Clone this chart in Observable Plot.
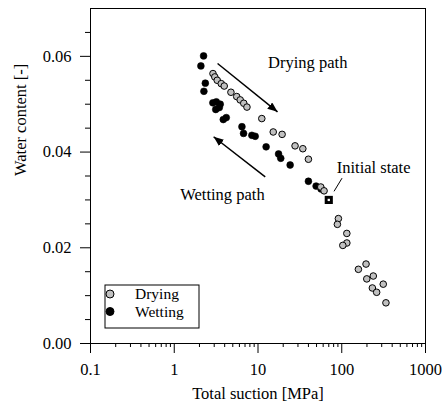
<!DOCTYPE html>
<html>
<head>
<meta charset="utf-8">
<script src="https://cdn.jsdelivr.net/npm/d3@7"></script>
<script src="https://cdn.jsdelivr.net/npm/@observablehq/plot@0.6"></script>
<style>
  html, body { margin: 0; padding: 0; background: #fff; }
</style>
</head>
<body>
<div id="chart"></div>
<script>
// Drying branch: total suction [MPa] and water content [-]
const dryingSuction = [2.9, 3.05, 3.26, 3.64, 3.95, 4.75, 5.57, 6.13, 6.76, 7.38, 11.1, 15.2, 19.4, 27.7, 34.3, 40.0, 56.2, 61.5,
  91.2, 88.7, 115, 115, 103, 158, 195, 199, 238, 313, 232, 261, 337];
const dryingWater = [0.0564, 0.0557, 0.0550, 0.0543, 0.0538, 0.0525, 0.0516, 0.0509, 0.0502, 0.0494, 0.0470, 0.0442, 0.0437, 0.0413, 0.0407, 0.0385, 0.0327, 0.0319,
  0.0261, 0.0249, 0.0230, 0.0210, 0.0205, 0.0155, 0.0166, 0.0135, 0.0141, 0.0124, 0.0116, 0.0107, 0.0085];

// Wetting branch
const wettingSuction = [2.24, 2.08, 2.35, 2.26, 2.89, 3.18, 3.54, 3.13, 3.45, 3.85, 4.18, 6.43, 6.72, 8.45, 9.26, 12.5, 17.6, 18.7, 24.2, 40.0, 49.4, 56.6];
const wettingWater = [0.0601, 0.0580, 0.0544, 0.0527, 0.0503, 0.0505, 0.0500, 0.0489, 0.0493, 0.0468, 0.0472, 0.0453, 0.0439, 0.0435, 0.0433, 0.0411, 0.0396, 0.0387, 0.0373, 0.0339, 0.0329, 0.0323];

// Initial state of the specimen
const initialSuction = [70];
const initialWater = [0.030];

// Axis ticks
const xMajorTicks = [0.1, 1, 10, 100, 1000];
const xMinorTicks = [0.1, 1, 10, 100].flatMap(d => [2, 3, 4, 5, 6, 7, 8, 9].map(k => k * d));
const yMajorTicks = [0, 0.02, 0.04, 0.06];
const yMinorTicks = [0.005, 0.01, 0.015, 0.025, 0.03, 0.035, 0.045, 0.05, 0.055, 0.065];

// Annotations (data units)
const pathArrows = [
  {name: "Drying path", x1: 3.29, y1: 0.0585, x2: 17.1, y2: 0.0484},
  {name: "Wetting path", x1: 12.2, y1: 0.0348, x2: 2.95, y2: 0.0432}
];
const pathLabels = [
  {text: "Drying path", x: 13.2, y: 0.0586},
  {text: "Wetting path", x: 1.18, y: 0.0310},
  {text: "Initial state", x: 87.1, y: 0.0368}
];
const initialLeader = [{x1: 100.8, y1: 0.03455, x2: 80.9, y2: 0.0318}];

const legendItems = [
  {label: "Drying", fill: "#c0c0c0"},
  {label: "Wetting", fill: "#000000"}
];

const drying = dryingSuction.map((s, i) => ({suction: s, water: dryingWater[i]}));
const wetting = wettingSuction.map((s, i) => ({suction: s, water: wettingWater[i]}));
const initial = initialSuction.map((s, i) => ({suction: s, water: initialWater[i]}));

const serif = "'Liberation Serif', 'Times New Roman', serif";
const SVGNS = "http://www.w3.org/2000/svg";

// Filled triangular arrowhead
function solidHead(color, context) {
  const doc = (context && context.document) || document;
  const m = doc.createElementNS(SVGNS, "marker");
  m.setAttribute("viewBox", "-10 -4 10 8");
  m.setAttribute("markerWidth", 10);
  m.setAttribute("markerHeight", 8);
  m.setAttribute("markerUnits", "userSpaceOnUse");
  m.setAttribute("orient", "auto");
  m.setAttribute("refX", 0);
  m.setAttribute("refY", 0);
  const p = doc.createElementNS(SVGNS, "path");
  p.setAttribute("d", "M-10,-4L0,0L-10,4Z");
  p.setAttribute("fill", color);
  p.setAttribute("stroke", "none");
  m.appendChild(p);
  return m;
}

// Boxed legend in the lower-left corner of the frame
function legendMark(index, scales, values, dimensions) {
  const g = d3.create("svg:g");
  const x0 = 105, y0 = 285, w = 94, h = 43;
  g.append("rect").attr("x", x0).attr("y", y0).attr("width", w).attr("height", h)
    .attr("fill", "white").attr("stroke", "black").attr("stroke-width", 1);
  legendItems.forEach((d, i) => {
    const cy = y0 + 9 + i * 17.5;
    g.append("circle").attr("cx", x0 + 5).attr("cy", cy).attr("r", 4)
      .attr("fill", d.fill).attr("stroke", "black").attr("stroke-width", 1);
    g.append("text").attr("x", x0 + 30).attr("y", cy).attr("dy", "0.35em")
      .attr("font-size", "15.5px")
      .attr("text-anchor", "start").attr("fill", "black").text(d.label);
  });
  return g.node();
}

const chart = Plot.plot({
  width: 443,
  height: 405,
  marginLeft: 90,
  marginRight: 18,
  marginTop: 8,
  marginBottom: 62,
  style: {fontFamily: serif, fontSize: "16.5px", color: "black", background: "white"},
  x: {type: "log", domain: [0.1, 1000]},
  y: {domain: [0, 0.07]},
  marks: [
    Plot.frame({stroke: "black", strokeWidth: 1}),
    Plot.axisX({ticks: xMajorTicks, tickSize: 10, tickPadding: 10, tickFormat: d3.format("~g"), label: null}),
    Plot.axisX({ticks: xMinorTicks, tickSize: 4, tickFormat: () => "", label: null}),
    Plot.axisY({ticks: yMajorTicks, tickSize: 10, tickPadding: 9, tickFormat: d3.format(".2f"), label: null}),
    Plot.axisY({ticks: yMinorTicks, tickSize: 5, tickFormat: () => "", label: null}),
    Plot.text(["Total suction [MPa]"], {frameAnchor: "bottom", dy: 50, lineAnchor: "middle", fill: "black"}),
    Plot.text(["Water content [-]"], {frameAnchor: "left", dx: -70, rotate: -90, lineAnchor: "middle", fill: "black"}),
    Plot.link(pathArrows, {x1: "x1", y1: "y1", x2: "x2", y2: "y2", stroke: "black", strokeWidth: 1.5, markerEnd: solidHead}),
    Plot.link(initialLeader, {x1: "x1", y1: "y1", x2: "x2", y2: "y2", stroke: "black", strokeWidth: 1}),
    Plot.text(pathLabels, {x: "x", y: "y", text: "text", textAnchor: "start", lineAnchor: "middle", fill: "black"}),
    Plot.dot(wetting, {x: "suction", y: "water", r: 3.4, fill: "black", stroke: "black", strokeWidth: 0.6}),
    Plot.dot(drying, {x: "suction", y: "water", r: 3.3, fill: "#c0c0c0", stroke: "black", strokeWidth: 1}),
    Plot.dot(initial, {x: "suction", y: "water", symbol: "square", r: 4.6, fill: "black"}),
    Plot.dot(initial, {x: "suction", y: "water", symbol: "square", r: 1.3, fill: "white"}),
    legendMark
  ]
});

document.getElementById("chart").appendChild(chart);
</script>
</body>
</html>
